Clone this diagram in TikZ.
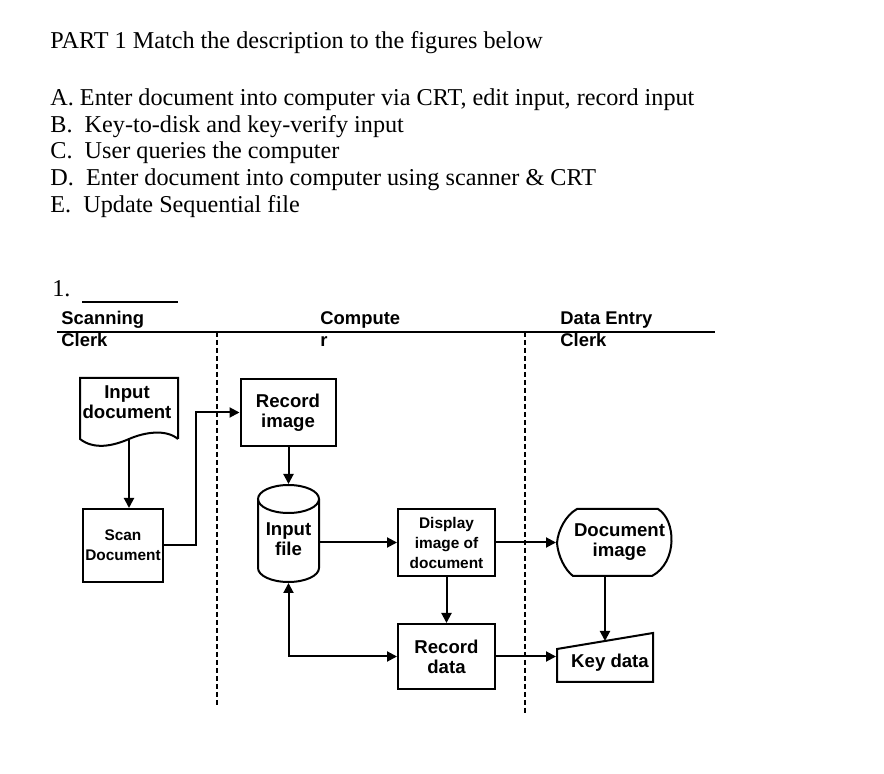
\documentclass[tikz,border=0pt]{standalone}
\usepackage{fontspec}
\setmainfont{Liberation Serif}
\setsansfont{Liberation Sans}
\usetikzlibrary{arrows.meta, positioning, calc}

\begin{document}
\begin{tikzpicture}[x=0.5pt, y=-0.5pt,
    flow/.style={-{Triangle[length=5pt, width=5pt]}, line width=1pt},
    flowboth/.style={{Triangle[length=5pt, width=5pt]}-{Triangle[length=5pt, width=5pt]}, line width=1pt},
    box/.style={draw, line width=1pt, align=center, inner sep=0pt, font=\sffamily\bfseries\fontsize{9.3}{10}\selectfont},
    smallbox/.style={box, font=\sffamily\bfseries\fontsize{7.7}{10}\selectfont},
    ghost/.style={box, draw=none},
    lane/.style={anchor=north west, align=left, inner sep=0pt, font=\sffamily\bfseries\fontsize{9.2}{11}\selectfont},
    lanesep/.style={dash pattern=on 2.5pt off 1.5pt, line width=1pt},
    txt/.style={anchor=base west, inner sep=0pt, font=\fontsize{12.1}{13.5}\selectfont}]
    \useasboundingbox (0,0) rectangle (884,774);

    % Question text
    \node[txt] (part) at (50,49) {PART 1 Match the description to the figures below};
    \node[txt] (qa) at (50,106) {A. Enter document into computer via CRT, edit input, record input};
    \node[txt] (qb) at (50,133) {B.\ \ Key-to-disk and key-verify input};
    \node[txt] (qc) at (50,159) {C.\ \ User queries the computer};
    \node[txt] (qd) at (50,186) {D.\ \ Enter document into computer using scanner \& CRT};
    \node[txt] (qe) at (50,213) {E.\ \ Update Sequential file};
    \node[txt] (num) at (52,297) {1.};
    \draw[line width=0.6pt] (82,302) -- (178,302);

    % Lanes
    \node[lane] (scanclerk) at (61,311) {Scanning\\Clerk};
    \node[lane] (computer) at (320,311) {Compute\\r};
    \node[lane] (entryclerk) at (560,311) {Data Entry\\Clerk};
    \draw[line width=1pt] (57,332) -- (715,332);
    \draw[lanesep] (217,332) -- (217,708);
    \draw[lanesep] (525,332) -- (525,715);

    % Scanning clerk
    \node[ghost, minimum width=48pt, minimum height=29.5pt] (indoc) at (129,408.5) {};
    \node[ghost] (indoctext) at ($(indoc.center)+(-2,-6)$) {Input\\document};
    \draw[line width=1pt] (indoc.south east) -- (indoc.north east) -- (indoc.north west) -- (indoc.south west)
        .. controls +(14,11) and +(-16,7) .. (indoc.south)
        .. controls +(16,-7) and +(-12,-10) .. (indoc.south east);
    \node[smallbox, minimum width=40pt, minimum height=36.5pt] (scandoc) at (123,545.5) {Scan\\Document};

    % Computer
    \node[box, minimum width=47.5pt, minimum height=33.5pt] (recimg) at (288,412.5) {Record\\image};
    \node[ghost, minimum width=30.5pt, minimum height=48.5pt] (infile) at (288.5,533.5) {};
    \node[ghost] (infiletext) at ($(infile.center)+(0,6)$) {Input\\file};
    \draw[line width=1pt] (258,499) -- (258,568) arc[start angle=180, end angle=360, x radius=15.25pt, y radius=7pt] -- (319,499);
    \draw[line width=1pt] (288.5,499) ellipse[x radius=15.25pt, y radius=7pt];
    \node[smallbox, minimum width=48.5pt, minimum height=33.5pt] (dispimg) at (446.5,542.5) {Display\\image of\\document};
    \node[box, minimum width=48.5pt, minimum height=32.5pt] (recdata) at (446.5,656.5) {Record\\data};

    % Data entry clerk
    \node[ghost, minimum width=57.5pt, minimum height=33.5pt] (docimg) at (614.5,542.5) {};
    \node[ghost] (docimgtext) at ($(docimg.center)+(5,0)$) {Document\\image};
    \draw[line width=1pt] (577,509) -- (658,509) .. controls (676,520) and (678,562) .. (652,576) -- (573,576)
        .. controls (565,570) and (558,556) .. (557,543) .. controls (558,530) and (566,515) .. (577,509) -- cycle;
    \node[ghost, minimum width=48pt, minimum height=24.5pt] (keydata) at (605,657.5) {};
    \node[ghost] (keydatatext) at ($(keydata.center)+(5,5)$) {Key data};
    \draw[line width=1pt] (557,649) -- (653,633) -- (653,682) -- (557,682) -- cycle;
    \coordinate (keytop) at (605,641);

    % Connectors
    \draw[flow] (indoc.south) -- (indoc.south |- scandoc.north);
    \draw[flow] (scandoc.east) -- ++(32,0) |- (recimg.west);
    \draw[flow] (recimg.south -| infile.north) -- (infile.north);
    \draw[flow] (infile.east |- dispimg.west) -- (dispimg.west);
    \draw[flowboth] (infile.south) |- (recdata.west);
    \draw[flow] (dispimg.south) -- (recdata.north);
    \draw[flow] (dispimg.east) -- (docimg.west);
    \draw[flow] (recdata.east) -- (recdata.east -| keydata.west);
    \draw[flow] (docimg.south -| keytop) -- (keytop);
\end{tikzpicture}
\end{document}
